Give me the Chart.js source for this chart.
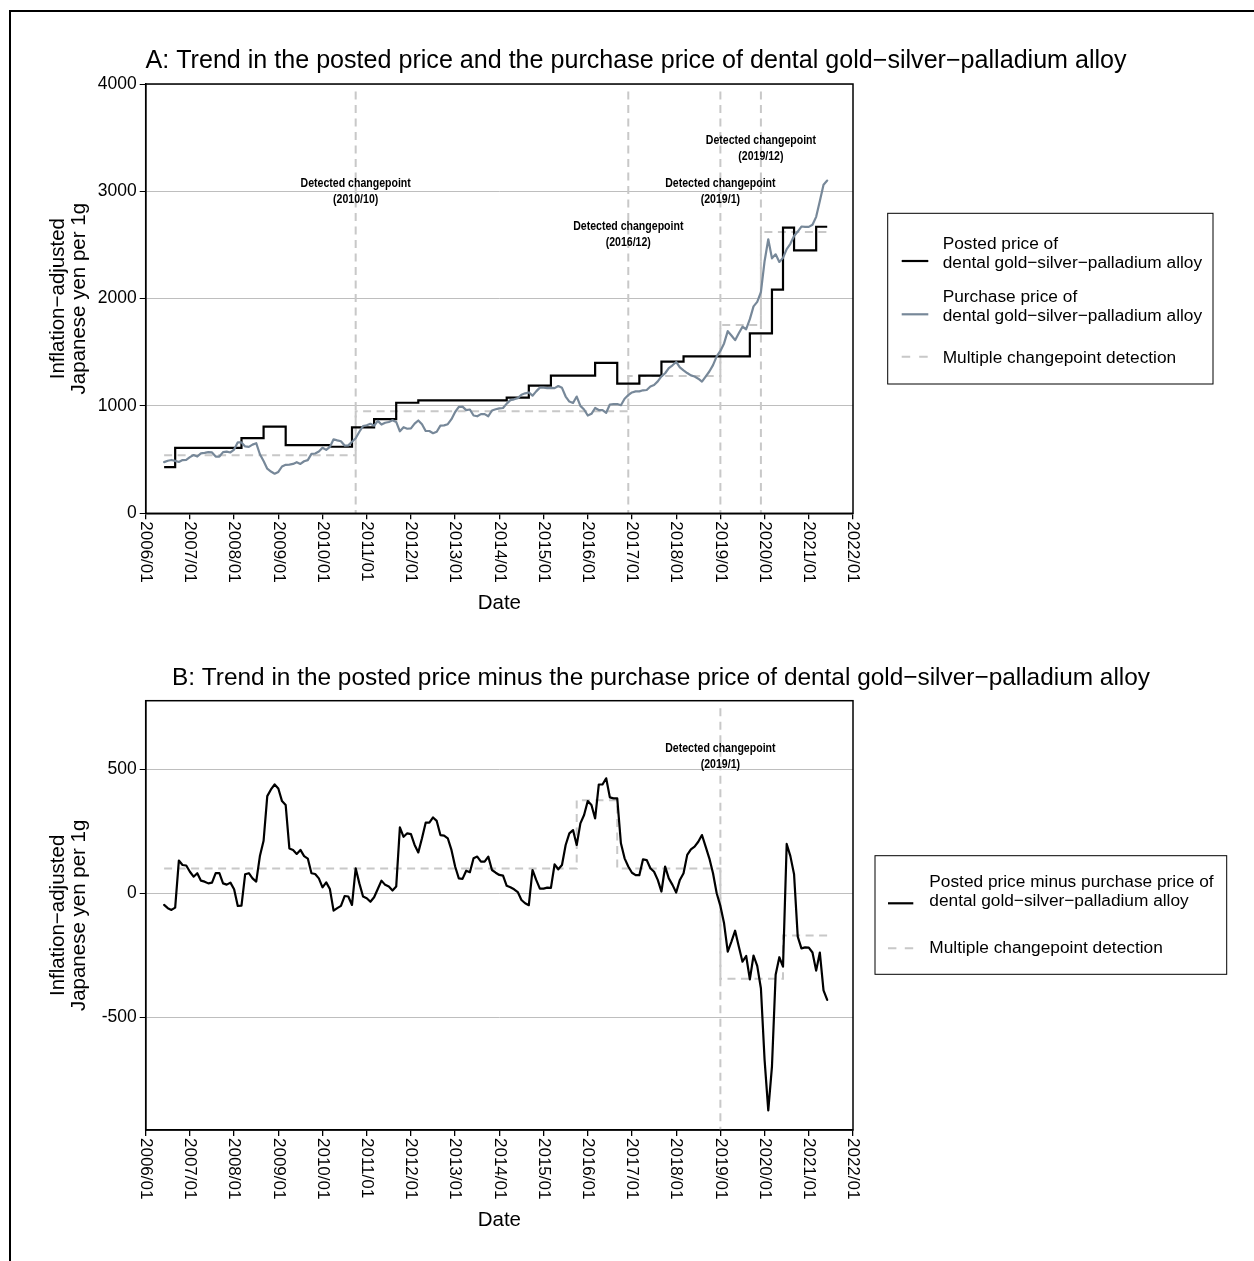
<!DOCTYPE html>
<html>
<head>
<meta charset="utf-8">
<script src="https://cdn.jsdelivr.net/npm/chart.js@4.4.1/dist/chart.umd.min.js"></script>
<style>
  html, body { margin: 0; padding: 0; background: #fff; }
  body { width: 1254px; height: 1261px; position: relative; overflow: hidden; }
  #frame { position: absolute; left: 9px; top: 10px; width: 1400px; height: 1400px;
           border-left: 2px solid #000; border-top: 2px solid #000; }
  canvas { position: absolute; left: 0; }
  #chartA { top: 0; }
  #chartB { top: 640px; }
</style>
</head>
<body>
<div id="frame"></div>
<canvas id="chartA" width="1254" height="640"></canvas>
<canvas id="chartB" width="1254" height="621"></canvas>
<script>
// ---------------------------------------------------------------------------
// Data: monthly series, 2006/06 - 2021/06 (inflation-adjusted yen per 1 g)
// ---------------------------------------------------------------------------
const firstMonth = '2006/06';
const lastMonth = '2021/06';

// Posted (reimbursement) price, one row per calendar year
const postedPrice = [
  430, 430, 430, 430, 610, 610, 610,                                   // 2006 Jun-Dec
  610, 610, 610, 610, 610, 610, 610, 610, 610, 610, 610, 610,          // 2007
  610, 610, 610, 700, 700, 700, 700, 700, 700, 808, 808, 808,          // 2008
  808, 808, 808, 635, 635, 635, 635, 635, 635, 635, 635, 635,          // 2009
  635, 635, 635, 620, 620, 620, 620, 620, 620, 800, 800, 800,          // 2010
  800, 800, 800, 878, 878, 878, 878, 878, 878, 1030, 1030, 1030,       // 2011
  1030, 1030, 1030, 1052, 1052, 1052, 1052, 1052, 1052, 1052, 1052, 1052, // 2012
  1052, 1052, 1052, 1052, 1052, 1052, 1052, 1052, 1052, 1052, 1052, 1052, // 2013
  1052, 1052, 1052, 1078, 1078, 1078, 1078, 1078, 1078, 1190, 1190, 1190, // 2014
  1190, 1190, 1190, 1283, 1283, 1283, 1283, 1283, 1283, 1283, 1283, 1283, // 2015
  1283, 1283, 1283, 1401, 1401, 1401, 1401, 1401, 1401, 1209, 1209, 1209, // 2016
  1209, 1209, 1209, 1283, 1283, 1283, 1283, 1283, 1283, 1413, 1413, 1413, // 2017
  1413, 1413, 1413, 1462, 1462, 1462, 1462, 1462, 1462, 1462, 1462, 1462, // 2018
  1462, 1462, 1462, 1462, 1462, 1462, 1462, 1462, 1462, 1677, 1677, 1677, // 2019
  1677, 1677, 1677, 2084, 2084, 2084, 2661, 2661, 2661, 2450, 2450, 2450, // 2020
  2450, 2450, 2450, 2670, 2670, 2670                                     // 2021 Jan-Jun
];

// Purchase (market buy-back) price
const purchasePrice = [
  477, 490, 497, 488, 478, 496, 498,                                   // 2006 Jun-Dec
  523, 543, 529, 559, 563, 570, 567, 529, 529, 570, 575, 567,          // 2007
  594, 661, 660, 623, 619, 640, 653, 550, 488, 416, 389, 369,          // 2008
  385, 436, 452, 454, 460, 476, 460, 485, 495, 554, 557, 575,          // 2009
  611, 591, 618, 690, 680, 671, 631, 633, 667, 699, 760, 813,          // 2010
  820, 834, 816, 861, 827, 844, 851, 867, 851, 764, 802, 788,          // 2011
  791, 835, 865, 830, 767, 767, 746, 760, 817, 819, 830, 877,          // 2012
  944, 992, 994, 961, 967, 911, 904, 924, 924, 904, 958, 969,          // 2013
  978, 981, 1022, 1054, 1062, 1073, 1105, 1118, 1126, 1096, 1136, 1171, // 2014
  1171, 1167, 1168, 1166, 1186, 1169, 1088, 1041, 1028, 1088, 1001, 967, // 2015
  911, 927, 981, 962, 962, 937, 1014, 1018, 1018, 1007, 1068, 1101,    // 2016
  1126, 1136, 1136, 1146, 1149, 1182, 1196, 1229, 1276, 1305, 1353, 1379, // 2017
  1410, 1359, 1332, 1307, 1285, 1274, 1254, 1227, 1274, 1321, 1381, 1462, // 2018
  1513, 1583, 1697, 1657, 1613, 1677, 1738, 1715, 1809, 1928, 1970, 2060, // 2019
  2349, 2553, 2376, 2413, 2342, 2380, 2462, 2511, 2584, 2625, 2672, 2668, // 2020
  2669, 2689, 2762, 2909, 3062, 3100                                     // 2021 Jan-Jun
];

// Posted price minus purchase price
const priceGap = [
  -47, -60, -67, -58, 132, 114, 112,                                   // 2006 Jun-Dec
  87, 67, 81, 51, 47, 40, 43, 81, 81, 40, 35, 43,                      // 2007
  16, -51, -50, 77, 81, 60, 47, 150, 212, 392, 419, 439,               // 2008
  423, 372, 356, 181, 175, 159, 175, 150, 140, 81, 78, 60,             // 2009
  24, 44, 17, -70, -60, -51, -11, -13, -47, 101, 40, -13,              // 2010
  -20, -34, -16, 17, 51, 34, 27, 11, 27, 266, 228, 242,                // 2011
  239, 195, 165, 222, 285, 285, 306, 292, 235, 233, 222, 175,          // 2012
  108, 60, 58, 91, 85, 141, 148, 128, 128, 148, 94, 83,                // 2013
  74, 71, 30, 24, 16, 5, -27, -40, -48, 94, 54, 19,                    // 2014
  19, 23, 22, 117, 97, 114, 195, 242, 255, 195, 282, 316,              // 2015
  372, 356, 302, 439, 439, 464, 387, 383, 383, 202, 141, 108,          // 2016
  83, 73, 73, 137, 134, 101, 87, 54, 7, 108, 60, 34,                   // 2017
  3, 54, 81, 155, 177, 188, 208, 235, 188, 141, 81, 0,                 // 2018
  -51, -121, -235, -195, -151, -215, -276, -253, -347, -251, -293, -383, // 2019
  -672, -876, -699, -329, -258, -296, 199, 150, 77, -175, -222, -218,  // 2020
  -219, -239, -312, -239, -392, -430                                    // 2021 Jan-Jun
];

// Multiple changepoint detection: segment means and the months where they change
const fitBreaksA = ['2010/10', '2016/12', '2019/01', '2019/12'];
const fitLevelsA = [540, 950, 1280, 1755, 2620];
const fitBreaksB = ['2015/10', '2016/09', '2019/01', '2020/06'];
const fitLevelsB = [100, 375, 100, -345, -170];

// Highlighted changepoints
const changepointsA = ['2010/10', '2016/12', '2019/01', '2019/12'];
const changepointTextA = ['(2010/10)', '(2016/12)', '(2019/1)', '(2019/12)'];
const changepointsB = ['2019/01'];
const changepointTextB = ['(2019/1)'];

// Axis tick labels
const xTickLabels = ['2006/01', '2007/01', '2008/01', '2009/01', '2010/01', '2011/01',
  '2012/01', '2013/01', '2014/01', '2015/01', '2016/01', '2017/01', '2018/01',
  '2019/01', '2020/01', '2021/01', '2022/01'];
const yTicksA = [0, 1000, 2000, 3000, 4000];
const yTicksB = [-500, 0, 500];

// ---------------------------------------------------------------------------
// Helpers
// ---------------------------------------------------------------------------
const FONT = '"Liberation Sans", Arial, Helvetica, sans-serif';
const SLATE = '#778899';
const CP_GRAY = '#c8c8c8';
const GRID_GRAY = '#bebebe';

// months since 2006/01
function monthIndex(label) {
  const [yy, mm] = label.split('/').map(Number);
  return (yy - 2006) * 12 + (mm - 1);
}

const months = [];
for (let i = monthIndex(firstMonth); i <= monthIndex(lastMonth); i++) {
  const yy = 2006 + Math.floor(i / 12), mm = (i % 12) + 1;
  months.push(yy + '/' + String(mm).padStart(2, '0'));
}

const toPoints = values => months.map((m, i) => ({ x: monthIndex(m), y: values[i] }));

function stepPoints(breaks, levels) {
  const pts = [{ x: monthIndex(months[0]), y: levels[0] }];
  breaks.forEach((b, i) => pts.push({ x: monthIndex(b), y: levels[i + 1] }));
  pts.push({ x: monthIndex(months[months.length - 1]), y: levels[levels.length - 1] });
  return pts;
}

function drawText(ctx, s, x, y, o) {
  ctx.save();
  ctx.translate(x, y);
  if (o.rot) ctx.rotate(o.rot);
  if (o.sx) ctx.scale(o.sx, 1);
  ctx.font = (o.weight || 'normal') + ' ' + o.size + 'px ' + FONT;
  ctx.textAlign = o.align || 'left';
  ctx.textBaseline = o.base || 'alphabetic';
  ctx.fillStyle = '#000';
  ctx.fillText(s, 0, 0);
  ctx.restore();
}

// Panel furniture: frame, changepoint guides, titles, rotated date labels, legend
function panelDecor(p) {
  return {
    id: 'panelDecor',
    beforeDatasetsDraw(chart) {
      const { ctx, chartArea: a, scales: { x } } = chart;
      ctx.save();
      ctx.strokeStyle = CP_GRAY;
      ctx.lineWidth = 2;
      ctx.setLineDash([8, 5.5]);
      p.changepoints.forEach(cp => {
        const px = x.getPixelForValue(monthIndex(cp));
        ctx.beginPath();
        ctx.moveTo(px, a.top + 7.5);
        ctx.lineTo(px, a.bottom);
        ctx.stroke();
      });
      ctx.restore();
    },
    afterDraw(chart) {
      const { ctx, chartArea: a, scales: { x, y } } = chart;
      ctx.save();
      // plot frame
      ctx.strokeStyle = '#000';
      ctx.lineWidth = 1.5;
      ctx.strokeRect(a.left, a.top, a.right - a.left, a.bottom - a.top);

      // changepoint annotations
      p.changepoints.forEach((cp, i) => {
        const px = x.getPixelForValue(monthIndex(cp));
        const py = y.getPixelForValue(p.noteLevels[i]);
        drawText(ctx, 'Detected changepoint', px, py - 8, { size: 12, weight: 'bold', align: 'center', base: 'middle', sx: 0.88 });
        drawText(ctx, p.changepointText[i], px, py + 8, { size: 12, weight: 'bold', align: 'center', base: 'middle', sx: 0.88 });
      });

      // date tick labels, rotated clockwise
      xTickLabels.forEach(lbl => {
        const px = x.getPixelForValue(monthIndex(lbl));
        drawText(ctx, lbl, px, a.bottom + 8, { size: 17, rot: Math.PI / 2, base: 'middle' });
      });

      // axis titles
      drawText(ctx, 'Date', (a.left + a.right) / 2, a.bottom + 96, { size: 20.5, align: 'center' });
      const cy = (a.top + a.bottom) / 2;
      drawText(ctx, 'Inflation\u2212adjusted', 63.5, cy, { size: 20.5, align: 'center', rot: -Math.PI / 2 });
      drawText(ctx, 'Japanese yen per 1g', 85, cy, { size: 20.5, align: 'center', rot: -Math.PI / 2 });

      // panel title
      drawText(ctx, p.title, p.titleX, a.top - 15.7, { size: p.titleSize });

      // legend
      const L = p.legend;
      ctx.lineWidth = 1;
      ctx.strokeStyle = '#000';
      ctx.strokeRect(L.x, L.y, L.w, L.h);
      L.items.forEach(it => {
        ctx.save();
        ctx.strokeStyle = it.color;
        ctx.lineWidth = it.width;
        ctx.setLineDash(it.dash || []);
        ctx.beginPath();
        ctx.moveTo(L.sampleX0, it.lineY);
        ctx.lineTo(L.sampleX1, it.lineY);
        ctx.stroke();
        ctx.restore();
        it.text.forEach((t, k) => drawText(ctx, t, L.textX, it.textY[k], { size: 17.3 }));
      });
      ctx.restore();
    }
  };
}

function chartOptions(p) {
  return {
    responsive: false,
    animation: false,
    devicePixelRatio: 1,
    events: [],
    layout: { padding: { left: 0, right: p.padRight, top: p.padTop, bottom: 0 } },
    plugins: { legend: { display: false }, tooltip: { enabled: false }, title: { display: false } },
    elements: { point: { radius: 0 }, line: { tension: 0 } },
    scales: {
      x: {
        type: 'linear',
        min: monthIndex(xTickLabels[0]),
        max: monthIndex(xTickLabels[xTickLabels.length - 1]),
        afterFit(s) { s.height = p.xAxisHeight; },
        afterBuildTicks(s) { s.ticks = xTickLabels.map(l => ({ value: monthIndex(l) })); },
        ticks: { display: false },
        grid: { drawOnChartArea: false, drawTicks: true, tickLength: 6, tickColor: '#000', color: '#000', lineWidth: 1.3 },
        border: { display: true, color: '#000', width: 1.5 }
      },
      y: {
        type: 'linear',
        min: p.yMin,
        max: p.yMax,
        afterFit(s) { s.width = p.yAxisWidth; },
        afterBuildTicks(s) { s.ticks = p.yTicks.map(v => ({ value: v })); },
        ticks: { color: '#000', padding: 3, font: { size: 17.5, family: FONT }, callback: v => String(v) },
        grid: { color: GRID_GRAY, lineWidth: 1, tickColor: '#000', tickLength: 6, drawTicks: true },
        border: { display: true, color: '#000', width: 1.5 }
      }
    }
  };
}

// ---------------------------------------------------------------------------
// Panel A: posted price and purchase price
// ---------------------------------------------------------------------------
const panelA = {
  title: 'A: Trend in the posted price and the purchase price of dental gold\u2212silver\u2212palladium alloy',
  titleX: 145.5, titleSize: 25.1,
  padTop: 84, padRight: 401, xAxisHeight: 126.7, yAxisWidth: 145.7,
  yMin: 0, yMax: 4000, yTicks: yTicksA,
  changepoints: changepointsA, changepointText: changepointTextA,
  noteLevels: [3000, 2600, 3000, 3400],
  legend: {
    x: 887.7, y: 213.3, w: 325.3, h: 170.7, sampleX0: 901.7, sampleX1: 928.3, textX: 942.7,
    items: [
      { color: '#000', width: 2.2, lineY: 261, text: ['Posted price of', 'dental gold\u2212silver\u2212palladium alloy'], textY: [249, 268.3] },
      { color: SLATE, width: 2.2, lineY: 314.3, text: ['Purchase price of', 'dental gold\u2212silver\u2212palladium alloy'], textY: [301.7, 320.7] },
      { color: CP_GRAY, width: 2, dash: [8.5, 9], lineY: 356.7, text: ['Multiple changepoint detection'], textY: [363.3] }
    ]
  }
};

new Chart(document.getElementById('chartA'), {
  type: 'line',
  data: {
    datasets: [
      { label: 'Purchase price', data: toPoints(purchasePrice), borderColor: SLATE, borderWidth: 2.2,
        borderJoinStyle: 'round', borderCapStyle: 'round', order: 0 },
      { label: 'Posted price', data: toPoints(postedPrice), borderColor: '#000', borderWidth: 2.2,
        stepped: 'after', borderJoinStyle: 'miter', order: 1 },
      { label: 'Multiple changepoint detection', data: stepPoints(fitBreaksA, fitLevelsA), borderColor: CP_GRAY,
        borderWidth: 2, borderDash: [8, 5.5], stepped: 'before', order: 2 }
    ]
  },
  options: chartOptions(panelA),
  plugins: [panelDecor(panelA)]
});

// ---------------------------------------------------------------------------
// Panel B: posted price minus purchase price
// ---------------------------------------------------------------------------
const panelB = {
  title: 'B: Trend in the posted price minus the purchase price of dental gold\u2212silver\u2212palladium alloy',
  titleX: 172, titleSize: 24.4,
  padTop: 60.7, padRight: 401, xAxisHeight: 131, yAxisWidth: 145.7,
  yMin: -955, yMax: 777, yTicks: yTicksB,
  changepoints: changepointsB, changepointText: changepointTextB,
  noteLevels: [550],
  legend: {
    x: 875, y: 215.7, w: 351.7, h: 118.6, sampleX0: 888, sampleX1: 913.3, textX: 929.3,
    items: [
      { color: '#000', width: 2.2, lineY: 263.3, text: ['Posted price minus purchase price of', 'dental gold\u2212silver\u2212palladium alloy'], textY: [246.7, 266.3] },
      { color: CP_GRAY, width: 2, dash: [8.4, 8.4], lineY: 308.3, text: ['Multiple changepoint detection'], textY: [312.7] }
    ]
  }
};

new Chart(document.getElementById('chartB'), {
  type: 'line',
  data: {
    datasets: [
      { label: 'Posted price minus purchase price', data: toPoints(priceGap), borderColor: '#000', borderWidth: 2.2,
        borderJoinStyle: 'round', borderCapStyle: 'round', order: 0 },
      { label: 'Multiple changepoint detection', data: stepPoints(fitBreaksB, fitLevelsB), borderColor: CP_GRAY,
        borderWidth: 2, borderDash: [8, 5.5], stepped: 'before', order: 1 }
    ]
  },
  options: chartOptions(panelB),
  plugins: [panelDecor(panelB)]
});
</script>
</body>
</html>
